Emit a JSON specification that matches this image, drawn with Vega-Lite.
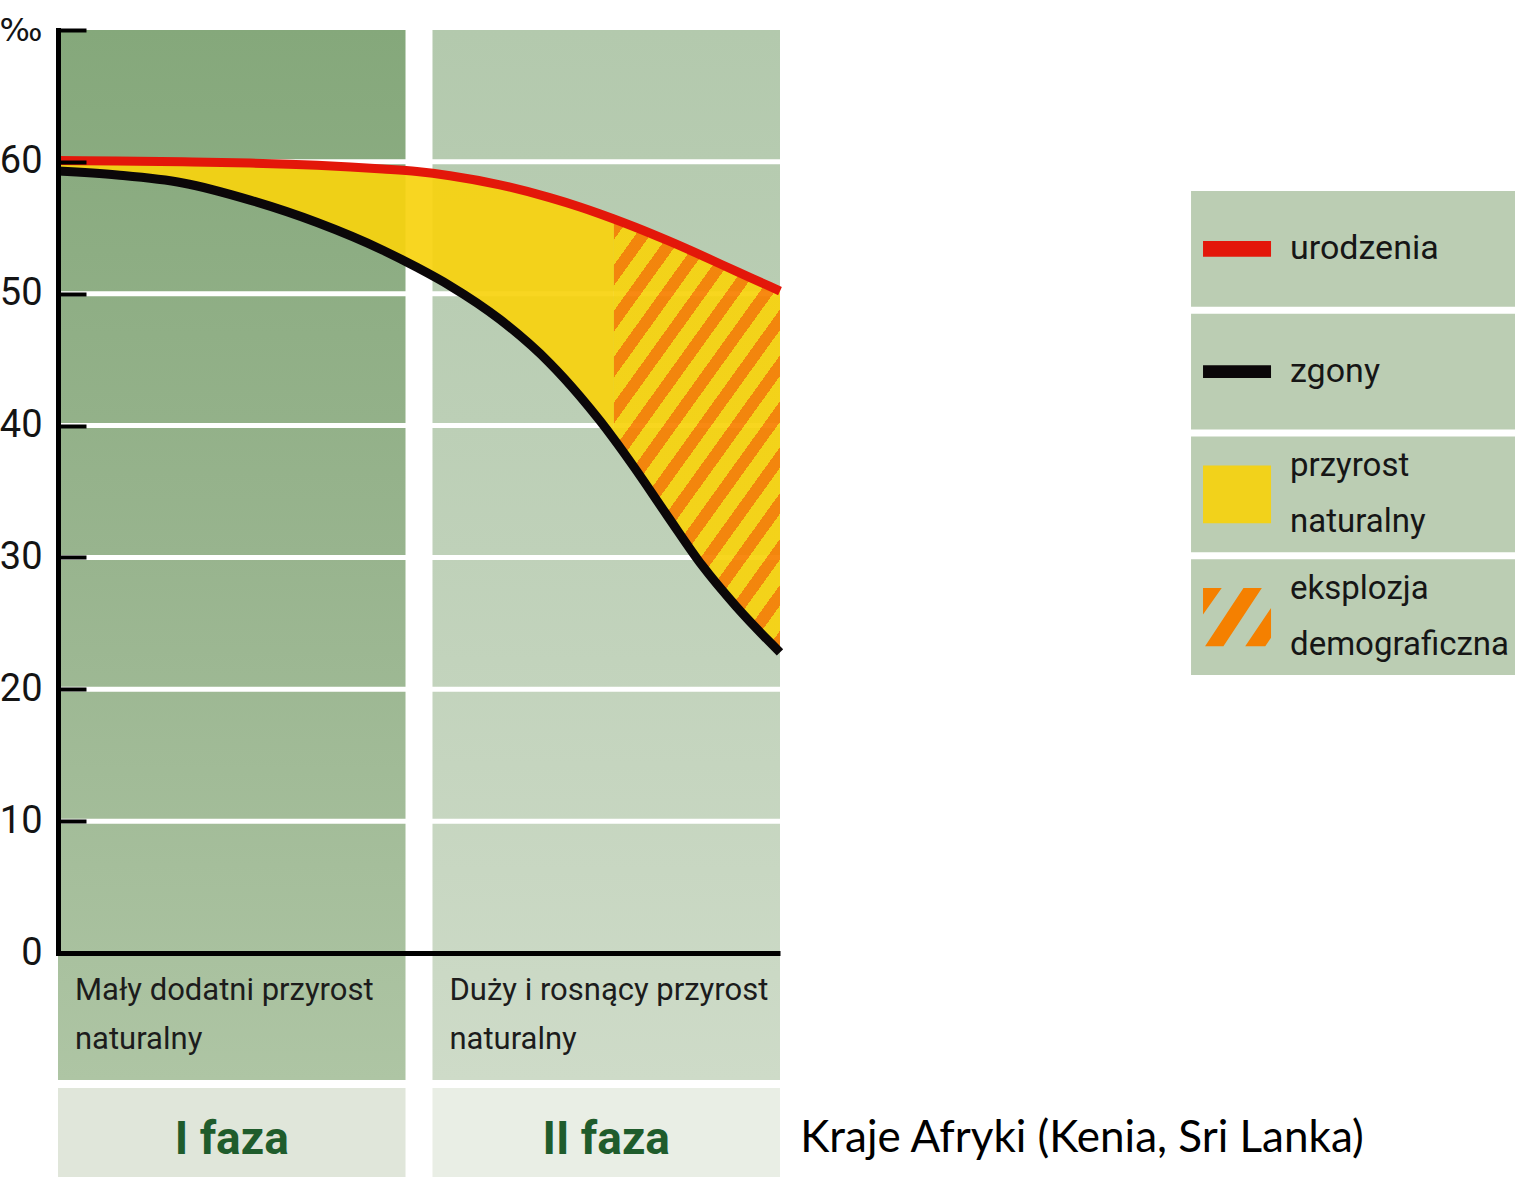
{
  "$schema": "https://vega.github.io/schema/vega-lite/v6.json",
  "width": 722,
  "height": 923,
  "autosize": {"type": "none"},
  "padding": {"left": 58, "top": 30, "right": 735, "bottom": 224},
  "background": "#ffffff",
  "config": {"view": {"stroke": null}},
  "datasets": {
    "rates": [
      {"t": 0, "births": 60.1, "deaths": 59.3},
      {"t": 8.2, "births": 60.06, "deaths": 59.0},
      {"t": 17.3, "births": 60.0, "deaths": 58.4},
      {"t": 26.6, "births": 59.91, "deaths": 57.1},
      {"t": 35.9, "births": 59.74, "deaths": 55.4},
      {"t": 45.0, "births": 59.46, "deaths": 53.3},
      {"t": 49.7, "births": 59.27, "deaths": 52.0},
      {"t": 54.3, "births": 58.95, "deaths": 50.6},
      {"t": 61.2, "births": 58.26, "deaths": 48.05},
      {"t": 68.1, "births": 57.29, "deaths": 44.74},
      {"t": 72.3, "births": 56.58, "deaths": 42.22},
      {"t": 75.1, "births": 56.05, "deaths": 40.34},
      {"t": 77.0, "births": 55.67, "deaths": 38.97},
      {"t": 79.8, "births": 55.08, "deaths": 36.84},
      {"t": 84.5, "births": 54.02, "deaths": 33.08},
      {"t": 89.2, "births": 52.89, "deaths": 29.4},
      {"t": 93.9, "births": 51.71, "deaths": 26.3},
      {"t": 98.6, "births": 50.55, "deaths": 23.57},
      {"t": 100, "births": 50.2, "deaths": 22.8}
    ],
    "phases": [
      {"phase": "I faza", "desc": "Mały dodatni przyrost\nnaturalny"},
      {"phase": "II faza", "desc": "Duży i rosnący przyrost\nnaturalny"}
    ],
    "grid": [{"v": 10}, {"v": 20}, {"v": 30}, {"v": 40}, {"v": 50}, {"v": 60}],
    "legend": [
      {"item": "urodzenia", "label": "urodzenia"},
      {"item": "zgony", "label": "zgony"},
      {"item": "przyrost naturalny", "label": "przyrost\nnaturalny"},
      {"item": "eksplozja demograficzna", "label": "eksplozja\ndemograficzna"}
    ],
    "caption": [{"text": "Kraje Afryki (Kenia, Sri Lanka)"}]
  },
  "resolve": {"scale": {"x": "independent", "y": "independent", "color": "independent", "shape": "independent"}},
  "layer": [
    {
      "data": {"name": "phases"},
      "layer": [
        {
          "transform": [{"filter": "datum.phase === 'I faza'"}],
          "mark": {"type": "rect", "fill": {"gradient": "linear", "x1": 0, "y1": 0, "x2": 0, "y2": 1, "stops": [{"offset": 0, "color": "#85a87b"}, {"offset": 0.5, "color": "#98b48e"}, {"offset": 1, "color": "#aec5a4"}]}},
          "encoding": {
            "x": {"field": "phase", "type": "nominal", "axis": null, "scale": {"type": "band", "domain": ["I faza", "II faza"], "paddingInner": 0.072, "paddingOuter": 0}},
            "y": {"datum": 70, "type": "quantitative", "axis": null, "scale": {"domain": [0, 70]}},
            "y2": {"datum": -9.63}
          }
        },
        {
          "transform": [{"filter": "datum.phase === 'II faza'"}],
          "mark": {"type": "rect", "fill": {"gradient": "linear", "x1": 0, "y1": 0, "x2": 0, "y2": 1, "stops": [{"offset": 0, "color": "#b3c9ad"}, {"offset": 0.5, "color": "#bfd1b9"}, {"offset": 1, "color": "#cedbc8"}]}},
          "encoding": {
            "x": {"field": "phase", "type": "nominal", "axis": null, "scale": {"type": "band", "domain": ["I faza", "II faza"], "paddingInner": 0.072, "paddingOuter": 0}},
            "y": {"datum": 70, "type": "quantitative", "axis": null, "scale": {"domain": [0, 70]}},
            "y2": {"datum": -9.63}
          }
        },
        {
          "mark": {"type": "rect"},
          "encoding": {
            "x": {"field": "phase", "type": "nominal", "axis": null, "scale": {"type": "band", "domain": ["I faza", "II faza"], "paddingInner": 0.072, "paddingOuter": 0}},
            "y": {"datum": -10.24, "type": "quantitative", "axis": null, "scale": {"domain": [0, 70]}},
            "y2": {"datum": -17.6},
            "color": {"field": "phase", "type": "nominal", "legend": null, "scale": {"domain": ["I faza", "II faza"], "range": ["#e0e6da", "#e9eee5"]}}
          }
        },
        {
          "mark": {"type": "text", "align": "left", "baseline": "alphabetic", "dx": 17, "lineBreak": "\n", "lineHeight": 49, "fontSize": 31, "font": "Roboto", "color": "#1c1c1c"},
          "encoding": {
            "x": {"field": "phase", "type": "nominal", "bandPosition": 0, "axis": null, "scale": {"type": "band", "domain": ["I faza", "II faza"], "paddingInner": 0.072, "paddingOuter": 0}},
            "y": {"datum": -3.57, "type": "quantitative", "axis": null, "scale": {"domain": [0, 70]}},
            "text": {"field": "desc"}
          }
        },
        {
          "mark": {"type": "text", "align": "center", "baseline": "alphabetic", "fontSize": 46, "fontWeight": "bold", "font": "Roboto", "color": "#1f5c2c"},
          "encoding": {
            "x": {"field": "phase", "type": "nominal", "bandPosition": 0.5, "axis": null, "scale": {"type": "band", "domain": ["I faza", "II faza"], "paddingInner": 0.072, "paddingOuter": 0}},
            "y": {"datum": -15.25, "type": "quantitative", "axis": null, "scale": {"domain": [0, 70]}},
            "text": {"field": "phase"}
          }
        }
      ]
    },
    {
      "layer": [
        {
          "data": {"name": "grid"},
          "mark": {"type": "rule", "color": "#ffffff", "strokeWidth": 5},
          "encoding": {
            "y": {"field": "v", "type": "quantitative", "scale": {"domain": [0, 70], "nice": false},
              "axis": {"orient": "left", "values": [0, 10, 20, 30, 40, 50, 60, 70], "labelExpr": "datum.value == 70 ? '‰' : datum.label", "title": null, "grid": false, "zindex": 1, "domain": true, "domainColor": "#000000", "domainWidth": 5, "domainCap": "square", "ticks": true, "tickSize": -28, "tickWidth": 4, "tickColor": "#000000", "labelPadding": 44, "labelFont": {"condition": {"test": "datum.value == 70", "value": "DejaVu Sans"}, "value": "Roboto"}, "labelFontSize": {"condition": {"test": "datum.value == 70", "value": 32}, "value": 38}, "labelColor": "#141414", "labelBaseline": "middle"}}
          }
        },
        {
          "data": {"name": "rates"},
          "transform": [{"filter": "datum.t <= 77"}],
          "mark": {"type": "area", "interpolate": "monotone", "fill": "#f7d30e", "opacity": 0.92},
          "encoding": {
            "x": {"field": "t", "type": "quantitative", "scale": {"domain": [0, 100], "nice": false, "zero": false},
              "axis": {"orient": "bottom", "title": null, "labels": false, "ticks": false, "grid": false, "domain": true, "domainColor": "#000000", "domainWidth": 5, "zindex": 1}},
            "y": {"field": "deaths", "type": "quantitative", "scale": {"domain": [0, 70], "nice": false}},
            "y2": {"field": "births"}
          }
        },
        {
          "data": {"name": "rates"},
          "transform": [{"filter": "datum.t >= 77"}],
          "mark": {"type": "area", "interpolate": "monotone", "opacity": 0.93, "fill": {"gradient": "linear", "x1": 0, "y1": 0, "x2": 0.6364, "y2": 1.194, "stops": [
            {"offset": 0, "color": "#f78000"}, {"offset": 0.0311, "color": "#f78000"}, {"offset": 0.0311, "color": "#f7d30e"}, {"offset": 0.0691, "color": "#f7d30e"},
            {"offset": 0.0691, "color": "#f78000"}, {"offset": 0.1002, "color": "#f78000"}, {"offset": 0.1002, "color": "#f7d30e"}, {"offset": 0.1382, "color": "#f7d30e"},
            {"offset": 0.1382, "color": "#f78000"}, {"offset": 0.1693, "color": "#f78000"}, {"offset": 0.1693, "color": "#f7d30e"}, {"offset": 0.2073, "color": "#f7d30e"},
            {"offset": 0.2073, "color": "#f78000"}, {"offset": 0.2384, "color": "#f78000"}, {"offset": 0.2384, "color": "#f7d30e"}, {"offset": 0.2764, "color": "#f7d30e"},
            {"offset": 0.2764, "color": "#f78000"}, {"offset": 0.3075, "color": "#f78000"}, {"offset": 0.3075, "color": "#f7d30e"}, {"offset": 0.3455, "color": "#f7d30e"},
            {"offset": 0.3455, "color": "#f78000"}, {"offset": 0.3766, "color": "#f78000"}, {"offset": 0.3766, "color": "#f7d30e"}, {"offset": 0.4146, "color": "#f7d30e"},
            {"offset": 0.4146, "color": "#f78000"}, {"offset": 0.4457, "color": "#f78000"}, {"offset": 0.4457, "color": "#f7d30e"}, {"offset": 0.4837, "color": "#f7d30e"},
            {"offset": 0.4837, "color": "#f78000"}, {"offset": 0.5148, "color": "#f78000"}, {"offset": 0.5148, "color": "#f7d30e"}, {"offset": 0.5528, "color": "#f7d30e"},
            {"offset": 0.5528, "color": "#f78000"}, {"offset": 0.5839, "color": "#f78000"}, {"offset": 0.5839, "color": "#f7d30e"}, {"offset": 0.6219, "color": "#f7d30e"},
            {"offset": 0.6219, "color": "#f78000"}, {"offset": 0.6530, "color": "#f78000"}, {"offset": 0.6530, "color": "#f7d30e"}, {"offset": 0.6910, "color": "#f7d30e"},
            {"offset": 0.6910, "color": "#f78000"}, {"offset": 0.7221, "color": "#f78000"}, {"offset": 0.7221, "color": "#f7d30e"}, {"offset": 0.7601, "color": "#f7d30e"},
            {"offset": 0.7601, "color": "#f78000"}, {"offset": 0.7912, "color": "#f78000"}, {"offset": 0.7912, "color": "#f7d30e"}, {"offset": 0.8292, "color": "#f7d30e"},
            {"offset": 0.8292, "color": "#f78000"}, {"offset": 0.8603, "color": "#f78000"}, {"offset": 0.8603, "color": "#f7d30e"}, {"offset": 0.8983, "color": "#f7d30e"},
            {"offset": 0.8983, "color": "#f78000"}, {"offset": 0.9294, "color": "#f78000"}, {"offset": 0.9294, "color": "#f7d30e"}, {"offset": 0.9674, "color": "#f7d30e"},
            {"offset": 0.9674, "color": "#f78000"}, {"offset": 0.9985, "color": "#f78000"}, {"offset": 0.9985, "color": "#f7d30e"}, {"offset": 1, "color": "#f7d30e"}
          ]}},
          "encoding": {
            "x": {"field": "t", "type": "quantitative", "scale": {"domain": [0, 100], "nice": false, "zero": false}},
            "y": {"field": "deaths", "type": "quantitative", "scale": {"domain": [0, 70], "nice": false}},
            "y2": {"field": "births"}
          }
        },
        {
          "data": {"name": "rates"},
          "mark": {"type": "line", "interpolate": "monotone", "color": "#e3170a", "strokeWidth": 9, "strokeCap": "butt"},
          "encoding": {
            "x": {"field": "t", "type": "quantitative", "scale": {"domain": [0, 100], "nice": false, "zero": false}},
            "y": {"field": "births", "type": "quantitative", "scale": {"domain": [0, 70], "nice": false}}
          }
        },
        {
          "data": {"name": "rates"},
          "mark": {"type": "line", "interpolate": "monotone", "color": "#0b0709", "strokeWidth": 9, "strokeCap": "butt"},
          "encoding": {
            "x": {"field": "t", "type": "quantitative", "scale": {"domain": [0, 100], "nice": false, "zero": false}},
            "y": {"field": "deaths", "type": "quantitative", "scale": {"domain": [0, 70], "nice": false}}
          }
        },
        {
          "data": {"name": "caption"},
          "mark": {"type": "text", "align": "left", "baseline": "alphabetic", "fontSize": 44, "font": "Lato", "color": "#000000"},
          "encoding": {
            "x": {"datum": 102.8, "type": "quantitative", "scale": {"domain": [0, 100], "nice": false, "zero": false}},
            "y": {"datum": -15.1, "type": "quantitative", "scale": {"domain": [0, 70], "nice": false}},
            "text": {"field": "text"}
          }
        }
      ]
    },
    {
      "data": {"name": "legend"},
      "layer": [
        {
          "mark": {"type": "rect", "fill": "#bbcdb3"},
          "encoding": {
            "x": {"datum": 156.93, "type": "quantitative", "axis": null, "scale": {"domain": [0, 100], "nice": false, "zero": false}},
            "x2": {"datum": 210},
            "y": {"field": "item", "type": "nominal", "axis": null, "sort": null, "scale": {"type": "band", "domain": ["urodzenia", "zgony", "przyrost naturalny", "eksplozja demograficzna"], "range": [161, 645], "paddingInner": 0.057, "paddingOuter": 0}}
          }
        },
        {
          "mark": {"type": "point", "filled": true, "opacity": 1, "strokeWidth": 0, "size": 4624},
          "encoding": {
            "x": {"datum": 163.3, "type": "quantitative", "axis": null, "scale": {"domain": [0, 100], "nice": false, "zero": false}},
            "y": {"field": "item", "type": "nominal", "axis": null, "sort": null, "scale": {"type": "band", "domain": ["urodzenia", "zgony", "przyrost naturalny", "eksplozja demograficzna"], "range": [161, 645], "paddingInner": 0.057, "paddingOuter": 0}},
            "shape": {"field": "item", "type": "nominal", "legend": null, "scale": {"domain": ["urodzenia", "zgony", "przyrost naturalny", "eksplozja demograficzna"], "range": ["M-1,-0.235H1V0.235H-1Z", "M-1,-0.19H1V0.19H-1Z", "M-1,-0.85H1V0.85H-1Z", "M-1,-0.86L-0.45,-0.86L-1,-0.08ZM0.19,-0.86L0.73,-0.86L-0.4,0.86L-0.94,0.86ZM1,-0.27L1,0.61L0.83,0.86L0.24,0.86Z"]}},
            "color": {"field": "item", "type": "nominal", "legend": null, "scale": {"domain": ["urodzenia", "zgony", "przyrost naturalny", "eksplozja demograficzna"], "range": ["#e3170a", "#0b0709", "#f2d21b", "#f58000"]}}
          }
        },
        {
          "transform": [{"filter": "indexof(datum.label, '\\n') < 0"}],
          "mark": {"type": "text", "align": "left", "baseline": "middle", "fontSize": 34, "font": "Roboto", "color": "#161616"},
          "encoding": {
            "x": {"datum": 170.64, "type": "quantitative", "axis": null, "scale": {"domain": [0, 100], "nice": false, "zero": false}},
            "y": {"field": "item", "type": "nominal", "axis": null, "sort": null, "scale": {"type": "band", "domain": ["urodzenia", "zgony", "przyrost naturalny", "eksplozja demograficzna"], "range": [161, 645], "paddingInner": 0.057, "paddingOuter": 0}},
            "text": {"field": "label"}
          }
        },
        {
          "transform": [{"filter": "indexof(datum.label, '\\n') >= 0"}],
          "mark": {"type": "text", "align": "left", "baseline": "middle", "dy": -28, "lineBreak": "\n", "lineHeight": 56, "fontSize": 33, "font": "Roboto", "color": "#161616"},
          "encoding": {
            "x": {"datum": 170.64, "type": "quantitative", "axis": null, "scale": {"domain": [0, 100], "nice": false, "zero": false}},
            "y": {"field": "item", "type": "nominal", "axis": null, "sort": null, "scale": {"type": "band", "domain": ["urodzenia", "zgony", "przyrost naturalny", "eksplozja demograficzna"], "range": [161, 645], "paddingInner": 0.057, "paddingOuter": 0}},
            "text": {"field": "label"}
          }
        }
      ]
    }
  ]
}
